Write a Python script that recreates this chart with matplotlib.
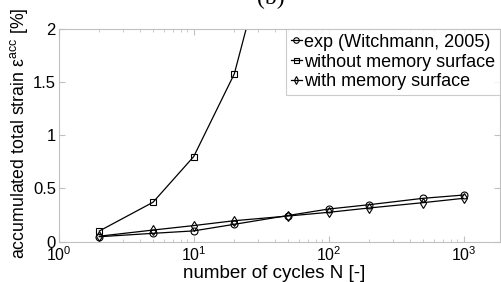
import matplotlib
matplotlib.use('Agg')
import matplotlib.pyplot as plt
from matplotlib.ticker import LogLocator, FixedLocator, FixedFormatter

plt.rcParams['font.family'] = ['Liberation Sans', 'DejaVu Sans']
plt.rcParams['mathtext.fontset'] = 'custom'
plt.rcParams['mathtext.rm'] = 'Liberation Sans'
plt.rcParams['mathtext.it'] = 'Liberation Sans:italic'
plt.rcParams['mathtext.default'] = 'regular'

# data
cycles = [2, 5, 10, 20, 50, 100, 200, 500, 1000]
exp_strain = [0.045, 0.077, 0.10, 0.162, 0.245, 0.306, 0.347, 0.407, 0.438]
with_memory = [0.05, 0.108, 0.15, 0.196, 0.24, 0.275, 0.316, 0.366, 0.407]
cycles_no_mem = [2, 5, 10, 20, 50]
without_memory = [0.099, 0.37, 0.80, 1.58, 3.5]

fig = plt.figure(figsize=(5.02, 2.82), dpi=100)
ax = fig.add_axes([58.7 / 502, 1 - 241.5 / 282, (500 - 58.7) / 502, (241.5 - 29.3) / 282])

ms = 5
ax.plot(cycles, exp_strain, color='black', lw=0.9, marker='o', ms=ms,
        mfc='none', mew=0.8, label='exp (Witchmann, 2005)')
ax.plot(cycles_no_mem, without_memory, color='black', lw=0.9, marker='s', ms=ms - 0.5,
        mfc='none', mew=0.8, label='without memory surface')
ax.plot(cycles, with_memory, color='black', lw=0.9, marker='d', ms=ms,
        mfc='none', mew=0.8, label='with memory surface')

ax.set_xscale('log')
ax.set_xlim(1, 1860)
ax.set_ylim(0, 2)

ax.xaxis.set_major_locator(FixedLocator([1, 10, 100, 1000]))
ax.xaxis.set_major_formatter(FixedFormatter(['$10^0$', '$10^1$', '$10^2$', '$10^3$']))
ax.xaxis.set_minor_locator(LogLocator(base=10, subs=range(2, 10)))
ax.set_yticks([0, 0.5, 1, 1.5, 2])
ax.set_yticklabels(['0', '0.5', '1', '1.5', '2'])

for s in ax.spines.values():
    s.set_color('#c0c0c0')
    s.set_linewidth(0.8)
ax.tick_params(which='both', direction='in', top=True, right=True,
               color='#c0c0c0', labelsize=12, pad=2)
ax.tick_params(axis='x', labelsize=11.5, pad=3)
ax.tick_params(which='major', length=4)
ax.tick_params(which='minor', length=2)

ax.set_xlabel('number of cycles N [-]', fontsize=13.5)
ax.xaxis.label.set_va('baseline')
ax.xaxis.set_label_coords(0.488, -0.174)
ax.set_ylabel(r'accumulated total strain $\varepsilon^{acc}$ [%]', fontsize=12.8)
ax.yaxis.set_label_coords(-0.065, 0.51)

leg = ax.legend(loc='upper right', fontsize=13, handlelength=0.6, handletextpad=0.15,
                borderpad=0.25, labelspacing=0.15, borderaxespad=0.0,
                frameon=True, fancybox=False, markerscale=0.8)
leg.get_frame().set_edgecolor('#c0c0c0')
leg.get_frame().set_linewidth(0.8)

fig.text(0.54, 1 - 9 / 282, '(b)', ha='center', va='bottom', fontsize=17,
         family='Liberation Serif')

fig.savefig('out.png', dpi=100)
